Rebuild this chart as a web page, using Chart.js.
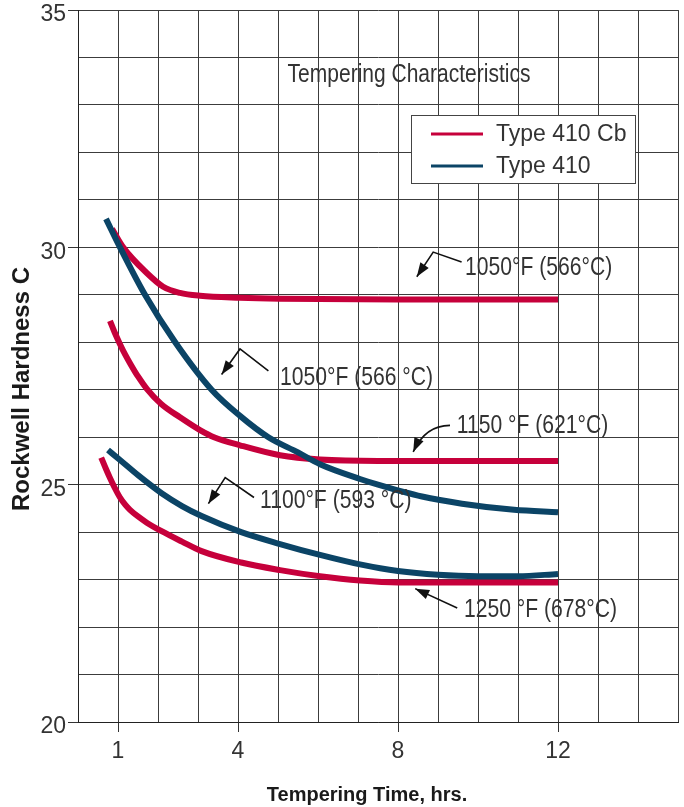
<!DOCTYPE html>
<html>
<head>
<meta charset="utf-8">
<script src="https://cdn.jsdelivr.net/npm/chart.js@4.4.0/dist/chart.umd.min.js"></script>
<style>
  html, body { margin: 0; padding: 0; background: #fff; }
  #wrap { width: 684px; height: 807px; position: relative; }
</style>
</head>
<body>
<div id="wrap"><canvas id="chart"></canvas></div>
<script>
const seriesNames = ["Type 410 Cb", "Type 410"];
const seriesColors = ["#c6003b", "#0b4466"];

// Type 410 Cb
const cb1050Time = [0.85, 1.13, 1.72, 2.13, 2.55, 3.05, 4.05, 5.05, 8, 12];
const cb1050Hrc = [30.39, 30.0, 29.46, 29.17, 29.04, 28.98, 28.94, 28.92, 28.9, 28.9];
const cb1150Time = [0.8, 0.92, 1.05, 1.18, 1.3, 1.5, 1.72, 2.08, 2.55, 3.05, 3.4, 4.05, 5.05, 6.05, 7.5, 12];
const cb1150Hrc = [28.45, 28.2, 27.96, 27.74, 27.56, 27.28, 27.02, 26.7, 26.42, 26.15, 26.0, 25.83, 25.62, 25.53, 25.5, 25.5];
const cb1250Time = [0.58, 0.7, 0.8, 0.92, 1.05, 1.18, 1.3, 1.5, 1.72, 2.09, 2.6, 3.09, 4.08, 5.05, 6.05, 7.05, 8, 12];
const cb1250Hrc = [25.57, 25.33, 25.14, 24.93, 24.73, 24.58, 24.47, 24.33, 24.2, 24.02, 23.8, 23.6, 23.36, 23.2, 23.07, 22.98, 22.94, 22.94];

// Type 410
const t1050Time = [0.7, 1.05, 1.675, 2.43, 3.34, 4.05, 4.76, 5.5, 6.05, 7.05, 7.5, 8.6, 9.6, 10.9, 12];
const t1050Hrc = [30.6, 30.0, 29.0, 28.0, 27.0, 26.45, 26.0, 25.68, 25.43, 25.12, 25.0, 24.75, 24.6, 24.47, 24.42];
const t1100Time = [0.75, 1.05, 1.5, 2.09, 2.6, 3.09, 4.08, 5.05, 6.05, 7.05, 8, 9, 10, 11, 12];
const t1100Hrc = [25.73, 25.52, 25.2, 24.82, 24.55, 24.34, 24.0, 23.75, 23.52, 23.32, 23.18, 23.1, 23.07, 23.07, 23.12];

const xTickLabels = [1, 4, 8, 12];
const yTickLabels = [20, 25, 30, 35];

const chartTitle = "Tempering Characteristics";
const xTitle = "Tempering Time, hrs.";
const yTitle = "Rockwell Hardness C";

// callouts: label, where the text starts, arrow path ending at the head (data units)
const callouts = [
  { text: "1050°F (566°C)", at: [9.675, 29.57], path: [[9.59, 29.69], [8.88, 29.9], [8.47, 29.38]] },
  { text: "1050°F (566 °C)", at: [5.05, 27.24], path: [[4.76, 27.4], [4.05, 27.86], [3.59, 27.32]] },
  { text: "1150 °F (621°C)", at: [9.47, 26.23], path: [[9.3, 26.25], [8.68, 26.25], [8.38, 25.69]], curve: true },
  { text: "1100°F (593 °C)", at: [4.55, 24.66], path: [[4.4, 24.73], [3.68, 25.15], [3.26, 24.6]] },
  { text: "1250 °F (678°C)", at: [9.65, 22.35], path: [[9.48, 22.4], [8.43, 22.81]] }
];

const SANS = "'Liberation Sans', Arial, sans-serif";

function pts(xs, ys) {
  return xs.map((v, i) => ({ x: v, y: ys[i] }));
}

function curve(xs, ys, color) {
  return {
    data: pts(xs, ys),
    borderColor: color,
    borderWidth: 6,
    borderCapStyle: "butt",
    pointRadius: 0,
    fill: false,
    cubicInterpolationMode: "monotone"
  };
}

// condensed text, the original uses a narrow face
function narrowText(ctx, text, x, y, align, sx) {
  ctx.save();
  ctx.translate(x, y);
  ctx.scale(sx, 1);
  ctx.textAlign = align;
  ctx.fillText(text, 0, 0);
  ctx.restore();
}

const overlay = {
  id: "overlay",
  afterDraw(chart) {
    const { ctx, scales: { x, y } } = chart;
    const px = (p) => [x.getPixelForValue(p[0]), y.getPixelForValue(p[1])];
    ctx.save();
    ctx.textBaseline = "middle";

    // title
    ctx.fillStyle = "#333";
    ctx.font = "25px " + SANS;
    narrowText(ctx, chartTitle, 409, 75, "center", 0.84);

    // legend box
    ctx.fillStyle = "#fff";
    ctx.fillRect(411.5, 115.5, 224, 68);
    ctx.strokeStyle = "#444";
    ctx.lineWidth = 1;
    ctx.strokeRect(411.5, 115.5, 224, 68);
    ctx.font = "23px " + SANS;
    ctx.textAlign = "left";
    seriesNames.forEach((name, i) => {
      const ly = 134 + i * 32;
      ctx.strokeStyle = seriesColors[i];
      ctx.lineWidth = 3;
      ctx.beginPath();
      ctx.moveTo(431, ly);
      ctx.lineTo(483, ly);
      ctx.stroke();
      ctx.fillStyle = "#333";
      ctx.fillText(name, 496, ly + 1);
    });

    // callouts
    ctx.lineWidth = 1.6;
    callouts.forEach((c) => {
      const p = c.path.map(px);
      ctx.strokeStyle = "#111";
      ctx.fillStyle = "#111";
      ctx.beginPath();
      ctx.moveTo(p[0][0], p[0][1]);
      if (c.curve) {
        ctx.quadraticCurveTo(p[1][0], p[1][1], p[2][0], p[2][1]);
      } else {
        for (let i = 1; i < p.length; i++) ctx.lineTo(p[i][0], p[i][1]);
      }
      ctx.stroke();
      const end = p[p.length - 1];
      const prev = p[p.length - 2];
      const ang = Math.atan2(end[1] - prev[1], end[0] - prev[0]);
      ctx.beginPath();
      ctx.moveTo(end[0], end[1]);
      ctx.lineTo(end[0] - 14 * Math.cos(ang) + 5 * Math.sin(ang), end[1] - 14 * Math.sin(ang) - 5 * Math.cos(ang));
      ctx.lineTo(end[0] - 14 * Math.cos(ang) - 5 * Math.sin(ang), end[1] - 14 * Math.sin(ang) + 5 * Math.cos(ang));
      ctx.closePath();
      ctx.fill();
      const t = px(c.at);
      ctx.fillStyle = "#333";
      ctx.font = "25px " + SANS;
      narrowText(ctx, c.text, t[0], t[1], "left", 0.845);
    });

    // axis titles
    ctx.fillStyle = "#1a1a1a";
    ctx.font = "bold 20px " + SANS;
    ctx.textAlign = "center";
    ctx.fillText(xTitle, 367, 795);
    ctx.translate(22, 389);
    ctx.rotate(-Math.PI / 2);
    ctx.font = "bold 24px " + SANS;
    ctx.fillText(yTitle, 0, 0);
    ctx.restore();
  }
};

new Chart(document.getElementById("chart"), {
  type: "line",
  data: {
    datasets: [
      curve(t1050Time, t1050Hrc, seriesColors[1]),
      curve(t1100Time, t1100Hrc, seriesColors[1]),
      curve(cb1050Time, cb1050Hrc, seriesColors[0]),
      curve(cb1150Time, cb1150Hrc, seriesColors[0]),
      curve(cb1250Time, cb1250Hrc, seriesColors[0])
    ]
  },
  options: {
    responsive: true,
    maintainAspectRatio: false,
    animation: false,
    layout: { padding: { top: 9, right: 5, left: 0, bottom: 0 } },
    plugins: { legend: { display: false }, tooltip: { enabled: false } },
    scales: {
      x: {
        type: "linear",
        min: 0,
        max: 15,
        afterFit: (s) => { s.height = 85; },
        ticks: {
          stepSize: 1,
          autoSkip: false,
          maxRotation: 0,
          padding: 6,
          color: "#333",
          font: { family: SANS, size: 23 },
          callback: (v) => (xTickLabels.includes(v) ? String(v) : "")
        },
        grid: {
          color: "#3c3c3c",
          lineWidth: 1,
          tickLength: 10,
          tickColor: (c) => (c.tick && xTickLabels.includes(c.tick.value) ? "#333" : "rgba(0,0,0,0)")
        },
        border: { color: "#222", width: 1 }
      },
      y: {
        min: 20,
        max: 35,
        afterFit: (s) => { s.width = 78; },
        ticks: {
          stepSize: 1,
          autoSkip: false,
          padding: 2,
          labelOffset: 5,
          color: "#333",
          font: { family: SANS, size: 23, lineHeight: 0.7 },
          callback: (v) => (yTickLabels.includes(v) ? String(v) : "")
        },
        grid: {
          color: "#3c3c3c",
          lineWidth: 1,
          tickLength: 10,
          tickColor: (c) => (c.tick && yTickLabels.includes(c.tick.value) ? "#333" : "rgba(0,0,0,0)")
        },
        border: { color: "#222", width: 1 }
      }
    }
  },
  plugins: [overlay]
});
</script>
</body>
</html>
